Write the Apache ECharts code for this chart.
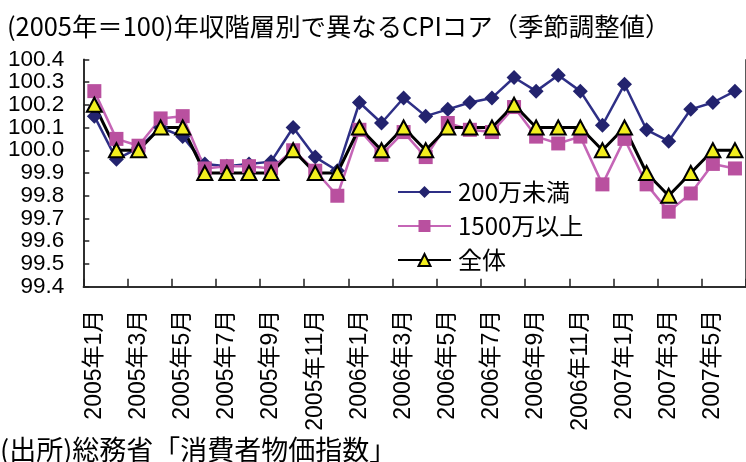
<!DOCTYPE html>
<html>
<head>
<meta charset="utf-8">
<script src="https://cdn.jsdelivr.net/npm/echarts@6/dist/echarts.min.js"></script>
<style>
html,body{margin:0;padding:0;background:#fff;}
#chart{width:746px;height:462px;}
</style>
</head>
<body>
<div id="chart"></div>
<script>
var categories = [
  '2005年1月','2005年2月','2005年3月','2005年4月','2005年5月','2005年6月',
  '2005年7月','2005年8月','2005年9月','2005年10月','2005年11月','2005年12月',
  '2006年1月','2006年2月','2006年3月','2006年4月','2006年5月','2006年6月',
  '2006年7月','2006年8月','2006年9月','2006年10月','2006年11月','2006年12月',
  '2007年1月','2007年2月','2007年3月','2007年4月','2007年5月','2007年6月'
];
var under200 = [100.15, 99.96, 100.01, 100.10, 100.06, 99.94, 99.93, 99.94, 99.95, 100.10,
  99.97, 99.91, 100.21, 100.12, 100.23, 100.15, 100.18, 100.21, 100.23, 100.32,
  100.26, 100.33, 100.26, 100.11, 100.29, 100.09, 100.04, 100.18, 100.21, 100.26];
var over1500 = [100.26, 100.05, 100.02, 100.14, 100.15, 99.92, 99.93, 99.93, 99.92, 100.00,
  99.91, 99.80, 100.09, 99.98, 100.08, 99.97, 100.12, 100.09, 100.08, 100.19,
  100.06, 100.03, 100.06, 99.85, 100.05, 99.85, 99.73, 99.81, 99.94, 99.92];
var overall = [100.2, 100.0, 100.0, 100.1, 100.1, 99.9, 99.9, 99.9, 99.9, 100.0,
  99.9, 99.9, 100.1, 100.0, 100.1, 100.0, 100.1, 100.1, 100.1, 100.2,
  100.1, 100.1, 100.1, 100.0, 100.1, 99.9, 99.8, 99.9, 100.0, 100.0];
var seriesNames = ['200万未満', '1500万以上', '全体'];
var titleText = '(2005年＝100)年収階層別で異なるCPIコア（季節調整値）';
var sourceText = '(出所)総務省「消費者物価指数」';

var cjk = '"Noto Sans CJK JP", sans-serif';
var mixed = '"Liberation Sans", "Noto Sans CJK JP", sans-serif';
var axisColor = '#222';
var clear = 'rgba(0,0,0,0)';
var ySplitColors = [axisColor, clear, clear, clear, clear, clear, clear, clear, clear, clear, clear];

var chart = echarts.init(document.getElementById('chart'), null, {renderer: 'canvas'});
chart.setOption({
  animation: false,
  backgroundColor: '#fff',
  title: [
    {text: titleText, left: 7, top: 14, padding: 0,
     textStyle: {fontFamily: cjk, fontSize: 25.4, lineHeight: 25, fontWeight: 'normal', color: '#000'}},
    {text: sourceText, left: 0, top: 436.5, padding: 0,
     textStyle: {fontFamily: cjk, fontSize: 27, lineHeight: 27, fontWeight: 'normal', color: '#000'}}
  ],
  legend: {
    orient: 'vertical', left: 397, top: 180, padding: 0,
    itemWidth: 53, itemHeight: 15, itemGap: 10,
    textStyle: {fontFamily: cjk, fontSize: 24, lineHeight: 24, color: '#000', padding: [0, 0, 0, 2]},
    data: seriesNames
  },
  grid: {left: 83.3, top: 59.3, width: 667.5, height: 227.4, containLabel: false},
  xAxis: {
    type: 'category', data: categories, boundaryGap: true,
    axisLine: {show: true, onZero: false, lineStyle: {color: axisColor, width: 1.5}},
    axisTick: {show: true, inside: true, length: 8, interval: 1, lineStyle: {color: axisColor, width: 1.5}},
    axisLabel: {interval: 1, rotate: 90, margin: 23, fontFamily: mixed, fontSize: 23, color: '#000'},
    splitLine: {show: true, interval: function (index) { return index === 0; },
      lineStyle: {color: axisColor, width: 1.5}}
  },
  yAxis: [
    {
      type: 'value', min: 99.4, max: 100.4, interval: 0.1,
      axisLine: {show: true, onZero: false, lineStyle: {color: axisColor, width: 1.5}},
      axisTick: {show: true, inside: true, length: 6, lineStyle: {color: axisColor, width: 1.5}},
      axisLabel: {margin: 19, showMinLabel: true, showMaxLabel: true,
        fontFamily: '"Liberation Sans", sans-serif', fontSize: 22.5, color: '#000',
        formatter: function (v) { return Math.round(v * 10) % 2 === 1 ? v.toFixed(1) : ''; }},
      splitLine: {show: true, lineStyle: {color: ySplitColors, width: 1.5}}
    },
    {
      type: 'value', position: 'left', min: 99.4, max: 100.4, interval: 0.2,
      axisLine: {show: false}, axisTick: {show: false}, splitLine: {show: false},
      axisLabel: {margin: 19, showMinLabel: true, showMaxLabel: true,
        fontFamily: '"Liberation Sans", sans-serif', fontSize: 22.5, color: '#000',
        formatter: function (v) { return v.toFixed(1); }}
    }
  ],
  series: [
    {name: seriesNames[0], type: 'line', data: under200, symbol: 'diamond', symbolSize: 15, showAllSymbol: true,
     lineStyle: {color: '#2e2f86', width: 2.5}, itemStyle: {color: '#23236e'}},
    {name: seriesNames[1], type: 'line', data: over1500, symbol: 'rect', symbolSize: 14, showAllSymbol: true,
     lineStyle: {color: '#c565b6', width: 2.5}, itemStyle: {color: '#b9509f'}},
    {name: seriesNames[2], type: 'line', data: overall, symbol: 'triangle', symbolSize: [15, 14], showAllSymbol: true,
     lineStyle: {color: '#000', width: 3}, itemStyle: {color: '#f2ee1e', borderColor: '#000', borderWidth: 2}}
  ]
});
</script>
</body>
</html>
